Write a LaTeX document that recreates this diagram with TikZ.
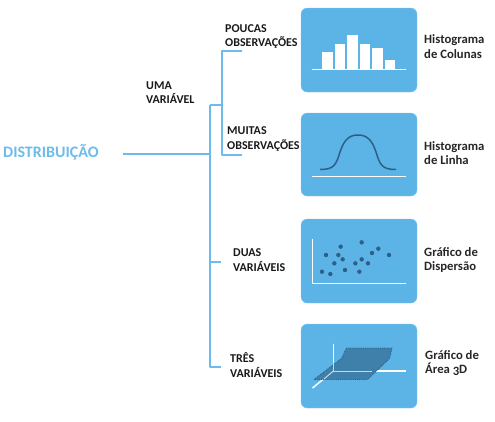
\documentclass[tikz,border=0pt]{standalone}
\usepackage{fontspec}
\setmainfont{Carlito}
\usepackage{tikz}
\definecolor{panelblue}{HTML}{5CB3E6}
\definecolor{treeblue}{HTML}{6DBBEA}
\definecolor{darkblue}{HTML}{2E5F85}
\definecolor{areablue}{HTML}{3F80AA}
\tikzset{
  treeline/.style={draw=treeblue, line width=1.7pt},
  panel/.style={fill=panelblue, draw=panelblue!70!white, line width=0.4pt, rounded corners=6pt},
  axisline/.style={draw=white, line width=1.5pt},
  label/.style={anchor=west, align=left, inner sep=0pt, text=black!90, font=\bfseries\fontsize{12}{14.4}\selectfont},
  chartname/.style={anchor=west, align=left, inner sep=0pt, text=black!85, font=\bfseries\fontsize{12.7}{14.4}\selectfont},
}
\begin{document}
\begin{tikzpicture}[x=1pt, y=-1pt, line join=round]

  %% tree
  \node[anchor=west, inner sep=0pt, text=treeblue, font=\bfseries\fontsize{16}{20}\selectfont] (dist) at (3,152) {DISTRIBUIÇÃO};
  \coordinate (root) at (123,154);
  \coordinate (hub) at (210,154);
  \coordinate (hubtop) at (210,105);
  \coordinate (hubduas) at (210,262);
  \coordinate (hubtres) at (210,367);
  \coordinate (uma) at (222,105);
  \coordinate (umatop) at (222,51);
  \coordinate (umabot) at (222,155);
  \coordinate (poucas) at (242,51);
  \coordinate (muitas) at (242,155);
  \coordinate (duas) at (221,262);
  \coordinate (tres) at (221,367);
  \draw[treeline] (root) -- (hub);
  \draw[treeline] (hubtop) -- (hubtres) -- (tres);
  \draw[treeline] (hubduas) -- (duas);
  \draw[treeline] (hubtop) -- (uma);
  \draw[treeline] (poucas) -- (umatop) -- (umabot) -- (muitas);

  %% labels
  \node[label] (lbluma) at (146,92.5) {UMA\\VARIÁVEL};
  \node[label] (lblpoucas) at (225,36.5) {POUCAS\\OBSERVAÇÕES};
  \node[label] (lblmuitas) at (227,139) {MUITAS\\OBSERVAÇÕES};
  \node[label] (lblduas) at (233,260) {DUAS\\VARIÁVEIS};
  \node[label] (lbltres) at (230,365) {TRÊS\\VARIÁVEIS};

  %% panels
  \path[panel] (301,8) rectangle (417,92);
  \path[panel] (301,113) rectangle (417,196);
  \path[panel] (301,219) rectangle (417,303);
  \path[panel] (301,324) rectangle (417,408);

  %% histogram of columns
  \foreach \xa/\ya in {322/52, 334.5/43.5, 347/35, 359.5/43.5, 372/47.5, 384.5/60}
    \fill[white] (\xa,\ya) rectangle ++(10.7,69.5-\ya);
  \draw[axisline] (311.5,69.5) -- (405.5,69.5);

  %% histogram of line
  \draw[darkblue, line width=1.5pt] (320,169.5) .. controls (334,169.5) and (336,165) .. (340,152)
    .. controls (344,140) and (349,135) .. (358,135)
    .. controls (367,135) and (372,140) .. (376,152)
    .. controls (380,165) and (382,169.5) .. (396,169.5);
  \draw[axisline] (311.5,176.5) -- (405.5,176.5);

  %% scatter
  \draw[axisline] (312.3,238.5) -- (312.3,283.5) -- (405.5,283.5);
  \foreach \xa/\ya in {66/155, 91/162, 78/105, 103/130, 115/105, 122/80, 128/118, 135/150, 166/130, 178/155, 185/67, 185/118, 204/130, 216/99, 235/86, 267/105}
    \fill[darkblue] (300+\xa/3,220+\ya/3) circle (2.2pt);

  %% 3D area
  \draw[axisline] (333.3,343.5) -- (333.3,371);
  \draw[axisline] (333.3,371) -- (405.5,371);
  \draw[axisline] (333.3,371) -- (312.5,388);
  \fill[areablue] (314,379.5) -- (341.5,358.5) -- (346.5,348) -- (392,348) -- (389.5,358.5) -- (367.5,379.5) -- cycle;
  \draw[darkblue, line width=0.9pt, densely dotted] (314,379.5) -- (341.5,358.5) -- (346.5,348) -- (392,348) -- (389.5,358.5) -- (367.5,379.5) -- cycle;
  \draw[white!70!areablue, line width=1pt] (333.3,371) -- (372,371);
  \draw[white!70!areablue, line width=1pt] (333.3,371) -- (333.3,362);
  \draw[white!70!areablue, line width=1pt] (333.3,371) -- (324,379);

  %% chart names
  \node[chartname] (nameA) at (424,46.5) {Histograma\\de Colunas};
  \node[chartname] (nameB) at (424,153) {Histograma\\de Linha};
  \node[chartname] (nameC) at (424,260) {Gráfico de\\Dispersão};
  \node[chartname] (nameD) at (425,363) {Gráfico de\\Área \raisebox{-1.6pt}{3}D};

  \pgfresetboundingbox
  \path[use as bounding box] (0,0) rectangle (495,421);
\end{tikzpicture}
\end{document}
